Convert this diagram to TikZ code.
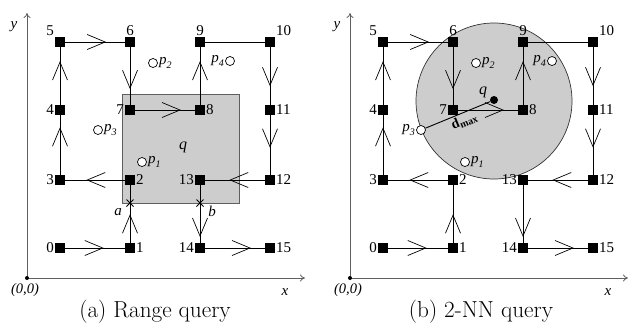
\documentclass[tikz,border=0pt]{standalone}
\usepackage{fontspec}
\newfontfamily\tms{Liberation Serif}
\usetikzlibrary{decorations.markings,arrows.meta}
\definecolor{qgray}{RGB}{205,205,205}
\definecolor{bgray}{RGB}{95,95,95}
\newcommand\plab[1]{{\tms\itshape p\raisebox{-0.22em}{\fontsize{10}{10}\selectfont #1}}}
\newcommand\netpanel[1]{%
  \node[sq,label={[lab]left:0}] (#10) at (60,248) {};
  \node[sq,label={[lab]right:1}] (#11) at (130,248) {};
  \node[sq,label={[lab]right:2}] (#12) at (130,180) {};
  \node[sq,label={[lab]left:3}] (#13) at (60,180) {};
  \node[sq,label={[lab]left:4}] (#14) at (60,110) {};
  \node[sq,label={[lab]above left:5}] (#15) at (60,42) {};
  \node[sq,label={[lab]above:6}] (#16) at (130,42) {};
  \node[sq,label={[lab]left:7}] (#17) at (130,110) {};
  \node[sq,label={[lab]right:8}] (#18) at (200,110) {};
  \node[sq,label={[lab]above:9}] (#19) at (200,42) {};
  \node[sq,label={[lab]above right:10}] (#110) at (270,42) {};
  \node[sq,label={[lab]right:11}] (#111) at (270,110) {};
  \node[sq,label={[lab]right:12}] (#112) at (270,180) {};
  \node[sq,label={[lab]left:13}] (#113) at (200,180) {};
  \node[sq,label={[lab]left:14}] (#114) at (200,248) {};
  \node[sq,label={[lab]right:15}] (#115) at (270,248) {};
  \draw[arr=0.63] (#10) -- (#11);
  \draw[arr=0.48] (#11) -- (#12);
  \draw[arr=0.63] (#12) -- (#13);
  \draw[arr=0.78] (#13) -- (#14);
  \draw[arr=0.74] (#14) -- (#15);
  \draw[arr=0.67] (#15) -- (#16);
  \draw[arr=0.71] (#16) -- (#17);
  \draw[arr=0.75] (#17) -- (#18);
  \draw[arr=0.74] (#18) -- (#19);
  \draw[edge] (#19) -- (#110);
  \draw[arr=0.66] (#110) -- (#111);
  \draw[arr=0.53] (#111) -- (#112);
  \draw[arr=0.58] (#112) -- (#113);
  \draw[arr=0.88] (#113) -- (#114);
  \draw[arr=0.75] (#114) -- (#115);
  \coordinate (#1o) at (27,278);
  \coordinate (#1yt) at (27,13);
  \coordinate (#1xt) at (305,278);
  \draw[axis] (#1o) -- (#1yt);
  \draw[axis] (#1o) -- (#1xt);
  \fill (#1o) circle (2);
  \node[lab,font=\tms\itshape\fontsize{15}{15}\selectfont] (#1ylab) at (14,27) {y};
  \node[lab,font=\tms\itshape\fontsize{15}{15}\selectfont] (#1xlab) at (285,292) {x};
  \node[lab,font=\tms\itshape\fontsize{14.5}{14.5}\selectfont] (#1olab) at (25,290) {(0,0)};
}
\begin{document}
\begin{tikzpicture}[x=1pt,y=-1pt,
  sq/.style={fill=black,minimum size=10pt,inner sep=0pt,outer sep=0pt},
  lab/.style={font=\tms\fontsize{15}{15}\selectfont, inner sep=1pt},
  edge/.style={line width=0.8pt},
  arr/.style={edge,postaction={decorate},decoration={markings,mark=at position #1 with {\draw[line width=0.7pt] (-18pt,7.5pt) -- (0pt,0pt) -- (-18pt,-7.5pt);}}},
  axis/.style={line width=0.8pt,draw=bgray,-{To[length=5pt,width=7pt]}},
  ptc/.style={circle,draw=black,fill=white,line width=0.7pt,minimum size=9pt,inner sep=0pt},
  plb/.style={font=\tms\fontsize{15}{15}\selectfont, inner sep=1pt}
]
\useasboundingbox (0,0) rectangle (628,333);
% ---------- panel (a)
\begin{scope}
  \draw[fill=qgray,draw=bgray,line width=0.8pt] (122,94) rectangle (239,203);
  \netpanel{a}
  \node[ptc] (ap1) at (142,162) {};
  \node[plb,right] (ap1l) at (ap1.east) {\plab{1}};
  \node[ptc] (ap2) at (153,63) {};
  \node[plb,right] (ap2l) at (ap2.east) {\plab{2}};
  \node[ptc] (ap3) at (98,130) {};
  \node[plb,right] (ap3l) at (ap3.east) {\plab{3}};
  \node[ptc] (ap4) at (230,61) {};
  \node[plb,left] (ap4l) at (ap4.west) {\plab{4}};
  \node[lab,font=\tms\itshape\fontsize{16}{16}\selectfont] (aq) at (183,147) {q};
  \coordinate (ca) at (130,203);
  \coordinate (cb) at (200,203);
  \draw[line width=0.9pt] ([shift={(-3.5,-3.5)}]ca) -- ([shift={(3.5,3.5)}]ca) ([shift={(-3.5,3.5)}]ca) -- ([shift={(3.5,-3.5)}]ca);
  \draw[line width=0.9pt] ([shift={(-3.5,-3.5)}]cb) -- ([shift={(3.5,3.5)}]cb) ([shift={(-3.5,3.5)}]cb) -- ([shift={(3.5,-3.5)}]cb);
  \node[lab,font=\tms\itshape\fontsize{15}{15}\selectfont] (alab) at (118,212) {a};
  \node[lab,font=\tms\itshape\fontsize{15}{15}\selectfont] (blab) at (212,211) {b};
  \node[font=\fontsize{23.2}{26}\selectfont] (capa) at (155,312) {(a) Range query};
\end{scope}
% ---------- panel (b)
\begin{scope}[xshift=323pt]
  \draw[fill=qgray,draw=black!80,line width=0.7pt] (171,101) circle (78);
  \netpanel{b}
  \node[ptc] (bp1) at (142,162) {};
  \node[plb,right] (bp1l) at (bp1.east) {\plab{1}};
  \node[ptc] (bp2) at (153,63) {};
  \node[plb,right] (bp2l) at (bp2.east) {\plab{2}};
  \node[ptc] (bp3) at (98,130) {};
  \node[plb,left] (bp3l) at (bp3.west) {\plab{3}};
  \node[ptc] (bp4) at (229,61) {};
  \node[plb,left] (bp4l) at (bp4.west) {\plab{4}};
  \node[circle,fill=black,minimum size=8pt,inner sep=0pt] (bq) at (171,100) {};
  \node[lab,font=\tms\itshape\fontsize{16}{16}\selectfont] (bql) at (160,92) {q};
  \draw[line width=0.9pt] (bp3) -- node[pos=0.55,sloped,below,inner sep=1.5pt,font=\tms\bfseries\fontsize{14}{14}\selectfont] (dmax) {d\raisebox{-0.2em}{\fontsize{10}{10}\selectfont max}} (bq);
  \node[font=\fontsize{23.2}{26}\selectfont] (capb) at (158,312) {(b) 2-NN query};
\end{scope}
\end{tikzpicture}
\end{document}
